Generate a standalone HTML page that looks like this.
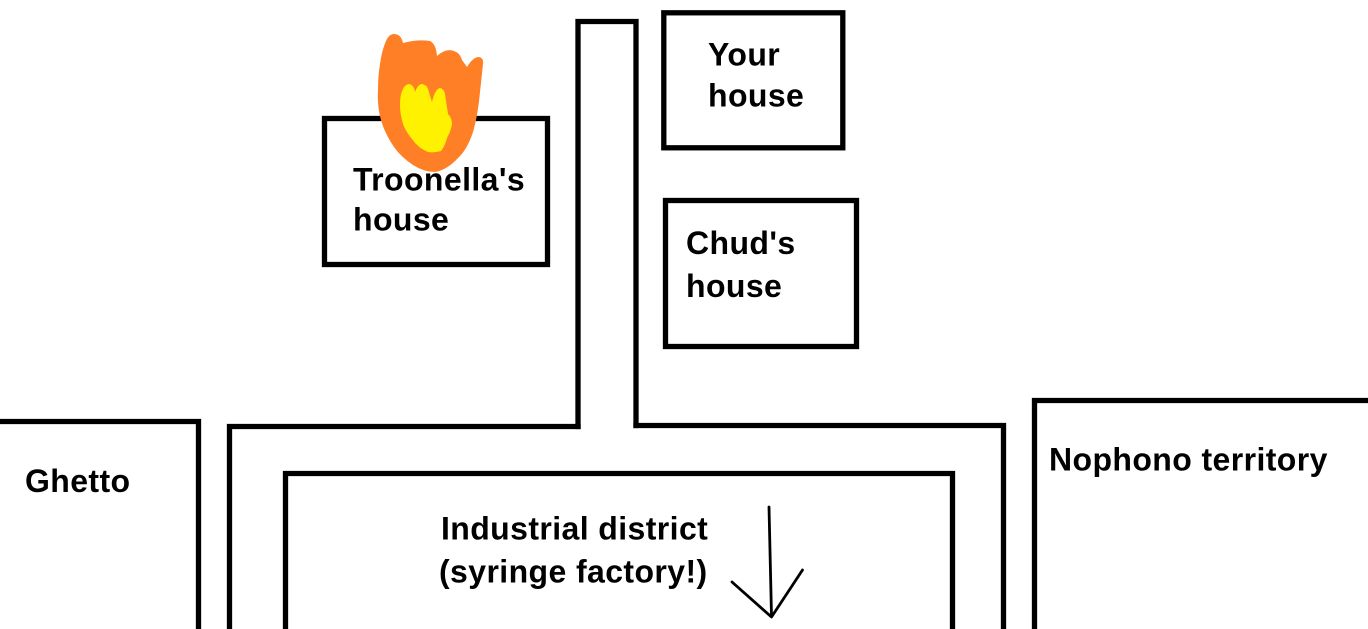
<!DOCTYPE html>
<html>
<head>
<meta charset="utf-8">
<style>
html,body{margin:0;padding:0;background:#fff;}
body{width:1368px;height:629px;overflow:hidden;}
svg{display:block;}
text{font-family:"Liberation Sans",Arial,sans-serif;font-weight:bold;font-size:32px;fill:#000;letter-spacing:0.4px;}
</style>
</head>
<body>
<svg width="1368" height="629" viewBox="0 0 1368 629" xmlns="http://www.w3.org/2000/svg">
  <rect x="0" y="0" width="1368" height="629" fill="#fff"/>
  <g fill="none" stroke="#000" stroke-width="5.3" stroke-linejoin="miter" stroke-linecap="square">
    <path d="M578 426.5 L578 21.5 L636 21.5 L636 425.5"/>
    <path d="M578 426.5 L229.5 426.5 L229.5 640"/>
    <path d="M636 425.5 L1003.5 425.5 L1003.5 640"/>
    <path d="M285.5 640 L285.5 473.5 L952.5 473.5 L952.5 640"/>
    <path d="M-10 421.5 L198.5 421.5 L198.5 640"/>
    <path d="M1034.5 640 L1034.5 400.5 L1380 400.5"/>
    <rect x="663.8" y="12.8" width="179" height="135"/>
    <rect x="665.5" y="200.5" width="191" height="146"/>
    <rect x="324.5" y="118.5" width="223" height="146"/>
  </g>

  <!-- fire -->
  <path fill="#FF7F27" d="M394 34 Q401 34 403 43 Q418 39 430 41 Q436 44 437 56 Q446 48 454 51 Q460 53 462 60 L467 67 Q473 57 479 57 Q484 58 483 64 L480 92 Q478 115 473 132 Q467 150 458 158 Q447 170 435 172 Q424 172 413 165 Q401 157 394 147 Q385 134 381 120 Q377 106 378 90 Q378 76 380 64 Q382 50 386 41 Q389 34 394 34 Z"/>
  <path fill="#FFF200" d="M402 91 Q405 84 409 84 Q414 85 415 92 Q418 84 422 84 Q427 85 428 89 L432 102 Q435 89 440 88 Q444 89 445 94 L448 114 Q452 118 452 124 Q451 131 447 138 Q445 146 441 151 Q434 153 428 152 Q418 148 412 139 Q406 132 403 124 Q400 114 400 105 Q400 96 402 91 Z"/>

  <!-- labels -->
  <text x="708" y="65.5">Your</text>
  <text x="708" y="106.5">house</text>
  <text x="353" y="190.5">Troonella's</text>
  <text x="353" y="230.5">house</text>
  <text x="686" y="254">Chud's</text>
  <text x="686" y="297">house</text>
  <text x="25" y="492">Ghetto</text>
  <text x="1049" y="470.5">Nophono territory</text>
  <text x="441" y="539.5">Industrial district</text>
  <text x="439" y="582.5">(syringe factory!)</text>

  <!-- arrow -->
  <g fill="none" stroke="#000" stroke-width="2.8" stroke-linecap="round" stroke-linejoin="round">
    <path d="M769 507 L771.5 616"/>
    <path d="M732 582 L771.5 617 L802.5 570"/>
  </g>
</svg>
</body>
</html>
